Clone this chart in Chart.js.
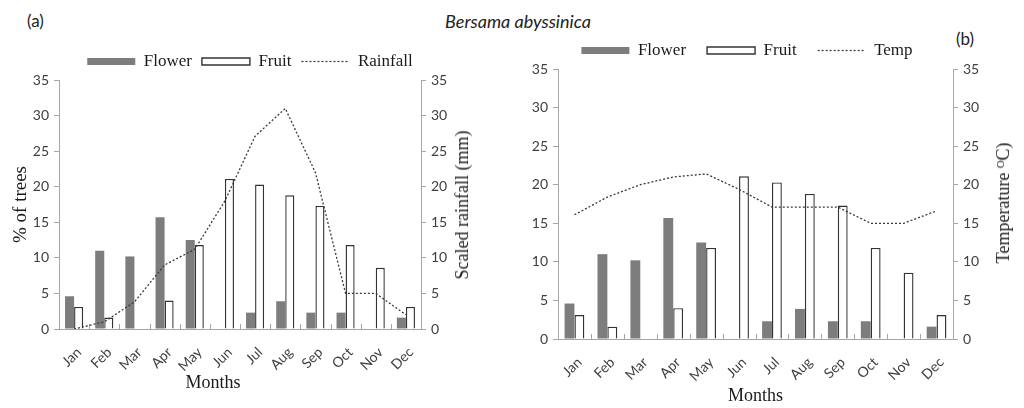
<!DOCTYPE html>
<html>
<head>
<meta charset="utf-8">
<title>Bersama abyssinica phenology</title>
<script src="https://cdn.jsdelivr.net/npm/chart.js@4.4.1/dist/chart.umd.min.js"></script>
<style>
  body { margin: 0; background: #fff; }
  #fig { position: relative; width: 1024px; height: 408px; overflow: hidden; font-family: Lato, sans-serif; color: #222; }
  .box { position: absolute; top: 0; height: 408px; }
  .lbl { position: absolute; white-space: nowrap; line-height: 1; }
  .serif { font-family: "Liberation Serif", serif; font-size: 18px; color: #1a1a1a; }
  .mid { transform: translate(-50%, -50%); }
  .rot { transform: translate(-50%, -50%) rotate(-90deg); }
</style>
</head>
<body>
<div id="fig">
  <div class="lbl" style="left:27px; top:12px; font-size:17px">(a)</div>
  <div class="lbl mid" style="left:518px; top:21px; font-size:18px; font-style:italic">Bersama abyssinica</div>
  <div class="lbl" style="left:956px; top:30px; font-size:17px">(b)</div>
  <div class="box" style="left:0; width:510px"><canvas id="chartA"></canvas></div>
  <div class="box" style="left:510px; width:514px"><canvas id="chartB"></canvas></div>
  <div class="lbl serif mid" style="left:213px; top:382px">Months</div>
  <div class="lbl serif rot" style="left:462px; top:205px">Scaled rainfall (mm)</div>
  <div class="lbl serif rot" style="left:1003px; top:203px">Temperature ᴼC)</div>
</div>
<script>
// monthly phenology (% of trees) and climate
const months = ['Jan', 'Feb', 'Mar', 'Apr', 'May', 'Jun', 'Jul', 'Aug', 'Sep', 'Oct', 'Nov', 'Dec'];
const flower = [4.6, 11.0, 10.2, 15.7, 12.5, 0, 2.3, 3.9, 2.3, 2.3, 0, 1.6];
const fruit = [3.1, 1.6, 0, 4.0, 11.8, 21.1, 20.3, 18.8, 17.3, 11.8, 8.6, 3.1];
const rainfall = [0, 1.0, 3.8, 9.0, 11.2, 18.0, 27.1, 31.0, 22.0, 5.0, 5.0, 2.0];
const temp = [16.1, 18.4, 20.0, 21.0, 21.4, 19.4, 17.1, 17.1, 17.1, 15.0, 15.0, 16.6];

const AXIS = '#a6a6a6';
const TICK_TEXT = '#404040';
const SERIF = '"Liberation Serif", "Times New Roman", serif';

// small upward tick marks between the month categories
const innerTicks = {
    id: 'innerTicks',
    beforeDatasetsDraw(chart) {
        const x = chart.scales.x;
        const ctx = chart.ctx;
        const bottom = chart.chartArea.bottom;
        ctx.save();
        ctx.strokeStyle = AXIS;
        ctx.lineWidth = 1;
        for (let i = 1; i < x.ticks.length; i++) {
            const px = Math.round((x.getPixelForTick(i - 1) + x.getPixelForTick(i)) / 2) + 0.5;
            ctx.beginPath();
            ctx.moveTo(px, bottom);
            ctx.lineTo(px, bottom - 5);
            ctx.stroke();
        }
        ctx.restore();
    }
};

function makeChart(id, climate, sizes) {
    const yTicks = {
        min: 0, max: 35,
        ticks: { stepSize: 5, color: TICK_TEXT, font: { family: 'Lato', size: 14 }, padding: 5 },
        grid: { drawOnChartArea: false, color: AXIS, tickLength: 5 },
        border: { color: AXIS, width: 1 }
    };

    const config = {
        type: 'bar',
        data: {
            labels: months,
            datasets: [
                {
                    label: 'Flower',
                    data: flower,
                    backgroundColor: '#7d7d7d',
                    borderColor: '#7d7d7d',
                    borderWidth: 0,
                    categoryPercentage: 0.6,
                    barPercentage: 1.0,
                    order: 1
                },
                {
                    label: 'Fruit',
                    data: fruit,
                    backgroundColor: '#ffffff',
                    borderColor: '#333333',
                    borderWidth: 1.4,
                    categoryPercentage: 0.6,
                    barPercentage: 1.0,
                    order: 1
                },
                {
                    // drawn last so it sits over the bars
                    type: 'line',
                    label: climate.label,
                    data: climate.data,
                    yAxisID: 'y1',
                    borderColor: '#3a3a3a',
                    borderWidth: 1.3,
                    borderDash: [2, 2],
                    pointRadius: 0,
                    tension: 0,
                    order: 0
                }
            ]
        },
        options: {
            responsive: true,
            maintainAspectRatio: false,
            animation: false,
            // right padding narrows the legend row so it centres further left
            layout: { padding: { top: sizes.top, left: 0, right: sizes.padRight, bottom: 0 } },
            plugins: {
                tooltip: { enabled: false },
                legend: {
                    position: 'top',
                    labels: {
                        usePointStyle: true,
                        pointStyleWidth: 48,
                        boxHeight: 7,
                        padding: sizes.legendPad,
                        color: '#1a1a1a',
                        font: { family: SERIF, size: 17 },
                        sort: function (a, b) { return a.datasetIndex - b.datasetIndex; },
                        generateLabels: function (chart) {
                            const items = Chart.defaults.plugins.legend.labels.generateLabels(chart);
                            items.forEach(function (item) {
                                const ds = chart.data.datasets[item.datasetIndex];
                                if (ds.type === 'line') {
                                    item.pointStyle = 'line';
                                    item.strokeStyle = ds.borderColor;
                                    item.lineWidth = ds.borderWidth;
                                    item.lineDash = ds.borderDash;
                                } else {
                                    item.pointStyle = 'rect';
                                }
                            });
                            return items;
                        }
                    }
                }
            },
            scales: {
                x: {
                    grid: { display: false, drawTicks: false },
                    border: { color: AXIS, width: 1 },
                    ticks: {
                        color: TICK_TEXT,
                        font: { family: 'Lato', size: 14 },
                        minRotation: 45,
                        maxRotation: 45,
                        padding: 15,
                        labelOffset: 5
                    },
                    title: sizes.xTitle ? {
                        display: true,
                        text: 'Months',
                        color: '#1a1a1a',
                        font: { family: SERIF, size: 18 },
                        padding: { top: 0, bottom: sizes.xTitlePad }
                    } : { display: false },
                    afterFit: function (scale) { scale.height = sizes.xHeight; }
                },
                y: Object.assign({}, yTicks, {
                    position: 'left',
                    title: sizes.yTitle ? {
                        display: true,
                        text: '% of trees',
                        color: '#1a1a1a',
                        font: { family: SERIF, size: 19 },
                        padding: { top: 10, bottom: 0 }
                    } : { display: false },
                    afterFit: function (scale) { scale.width = sizes.yWidth; }
                }),
                y1: Object.assign({}, yTicks, {
                    position: 'right',
                    afterFit: function (scale) { scale.width = sizes.y1Width; }
                })
            }
        },
        plugins: [innerTicks]
    };

    return new Chart(document.getElementById(id), config);
}

makeChart('chartA', { label: 'Rainfall', data: rainfall },
    { top: 43, legendPad: 10, padRight: 10, xHeight: 79, yWidth: 59, y1Width: 79, yTitle: true, xTitle: false });
makeChart('chartB', { label: 'Temp', data: temp },
    { top: 21, legendPad: 21, padRight: 40, xHeight: 69, yWidth: 48, y1Width: 31, yTitle: false, xTitle: true, xTitlePad: 1 });
</script>
</body>
</html>
